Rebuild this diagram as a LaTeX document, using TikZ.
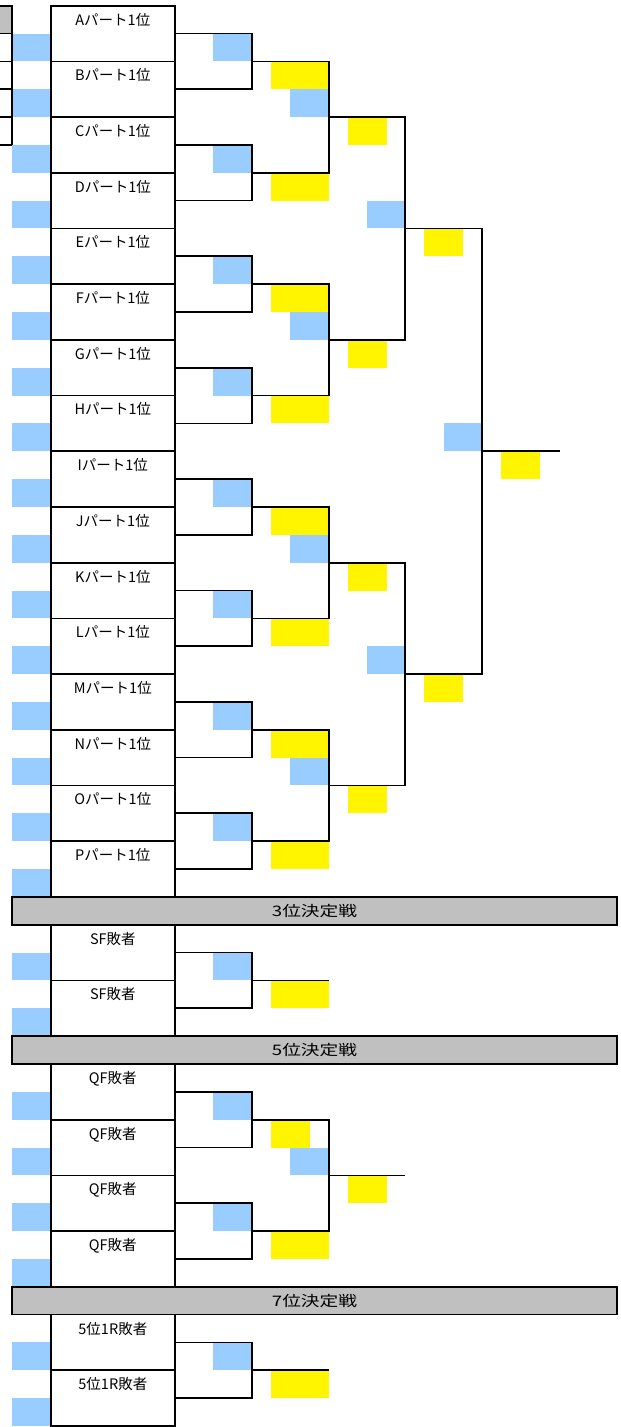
\documentclass[tikz,border=0pt]{standalone}
\usepackage{fontspec}
\setmainfont{Noto Sans CJK JP}
\usepackage{graphicx}
\usepackage{tikz}
\usetikzlibrary{positioning, calc}

\definecolor{cellblue}{RGB}{153,204,255}
\definecolor{cellyellow}{RGB}{255,245,0}
\definecolor{cellgray}{RGB}{192,192,192}

\newcommand{\bandtext}[1]{\scalebox{1.29}[1]{#1}}

\begin{document}
\begin{tikzpicture}[x=1pt, y=-27.85pt, line width=1.7pt,
	team/.style={draw, rectangle, anchor=north west, inner sep=0pt, outer sep=0pt, minimum width=124.3pt, minimum height=55.7pt, text height=19.4pt, text depth=36.3pt, font=\fontsize{14.5}{17}\selectfont},
	band/.style={draw, rectangle, fill=cellgray, anchor=north west, inner sep=0pt, outer sep=0pt, minimum width=605pt, minimum height=27.85pt, font=\fontsize{14.5}{17}\selectfont},
	bluecell/.style={fill=cellblue},
	yelcell/.style={fill=cellyellow}]

	\useasboundingbox (0,-0.2047) rectangle (621,51.035);

	% cells first, lines go over them
	\foreach \r in {1,3,...,31,34,36,39,41,43,45,48,50}
		\fill[bluecell] (12,\r) rectangle (50.7,\r+1);
	\foreach \r in {1,5,...,29,34,39,43,48}
		\fill[bluecell] (213,\r) rectangle (252,\r+1);
	\foreach \r in {3,11,19,27,41}
		\fill[bluecell] (290,\r) rectangle (329,\r+1);
	\foreach \r in {7,23}
		\fill[bluecell] (367,\r) rectangle (405,\r+1);
	\fill[bluecell] (444,15) rectangle (482,16);

	\foreach \r in {2,6,...,30,35,44,49}
		\fill[yelcell] (271,\r) rectangle (329,\r+1);
	\fill[yelcell] (271,40) rectangle (310,41);
	\foreach \r in {4,12,20,28,42}
		\fill[yelcell] (348,\r) rectangle (387,\r+1);
	\foreach \r in {8,24}
		\fill[yelcell] (424,\r) rectangle (463,\r+1);
	\fill[yelcell] (501,16) rectangle (540,17);

	% cut-off table at the left edge
	\fill[cellgray] (0,0) rectangle (12,1);
	\draw (0,0) -| (12,5);
	\foreach \r in {1,...,5}
		\draw (0,\r) -- (12,\r);

	% part winners
	\node [team] (tA) at (50.7,0) {Aパート1位};
	\node [team, below=0pt of tA] (tB) {Bパート1位};
	\node [team, below=0pt of tB] (tC) {Cパート1位};
	\node [team, below=0pt of tC] (tD) {Dパート1位};
	\node [team, below=0pt of tD] (tE) {Eパート1位};
	\node [team, below=0pt of tE] (tF) {Fパート1位};
	\node [team, below=0pt of tF] (tG) {Gパート1位};
	\node [team, below=0pt of tG] (tH) {Hパート1位};
	\node [team, below=0pt of tH] (tI) {Iパート1位};
	\node [team, below=0pt of tI] (tJ) {Jパート1位};
	\node [team, below=0pt of tJ] (tK) {Kパート1位};
	\node [team, below=0pt of tK] (tL) {Lパート1位};
	\node [team, below=0pt of tL] (tM) {Mパート1位};
	\node [team, below=0pt of tM] (tN) {Nパート1位};
	\node [team, below=0pt of tN] (tO) {Oパート1位};
	\node [team, below=0pt of tO] (tP) {Pパート1位};

	% placing matches
	\node [band] (b3) at (12,32) {\bandtext{3位決定戦}};
	\node [team] (s1) at (50.7,33) {SF敗者};
	\node [team, below=0pt of s1] (s2) {SF敗者};

	\node [band] (b5) at (12,37) {\bandtext{5位決定戦}};
	\node [team] (q1) at (50.7,38) {QF敗者};
	\node [team, below=0pt of q1] (q2) {QF敗者};
	\node [team, below=0pt of q2] (q3) {QF敗者};
	\node [team, below=0pt of q3] (q4) {QF敗者};

	\node [band] (b7) at (12,46) {\bandtext{7位決定戦}};
	\node [team] (h1) at (50.7,47) {5位1R敗者};
	\node [team, below=0pt of h1] (h2) {5位1R敗者};

	% match points
	\foreach \j in {0,...,7}
		\coordinate (ra\j) at (252,{4*\j+2});
	\foreach \j in {0,...,3}
		\coordinate (rb\j) at (329,{8*\j+4});
	\coordinate (rc0) at (405,8);
	\coordinate (rc1) at (405,24);
	\coordinate (rd) at (482,16);
	\coordinate (win) at (560,16);

	\coordinate (sa) at (252,35);
	\coordinate (sw) at (329,35);
	\coordinate (qa0) at (252,40);
	\coordinate (qa1) at (252,44);
	\coordinate (qb) at (329,42);
	\coordinate (qw) at (405,42);
	\coordinate (ha) at (252,49);
	\coordinate (hw) at (329,49);

	% bracket lines
	\foreach \a/\b [count=\j from 0] in {A/B,C/D,E/F,G/H,I/J,K/L,M/N,O/P}
		\draw (t\a.east) -| (ra\j) |- (t\b.east);
	\foreach \j/\a/\b in {0/0/1,1/2/3,2/4/5,3/6/7}
		\draw (ra\a) -| (rb\j) |- (ra\b);
	\draw (rb0) -| (rc0) |- (rb1);
	\draw (rb2) -| (rc1) |- (rb3);
	\draw (rc0) -| (rd) |- (rc1);
	\draw (rd) -- (win);

	\draw (s1.east) -| (sa) |- (s2.east);
	\draw (sa) -- (sw);

	\draw (q1.east) -| (qa0) |- (q2.east);
	\draw (q3.east) -| (qa1) |- (q4.east);
	\draw (qa0) -| (qb) |- (qa1);
	\draw (qb) -- (qw);

	\draw (h1.east) -| (ha) |- (h2.east);
	\draw (ha) -- (hw);

\end{tikzpicture}
\end{document}
